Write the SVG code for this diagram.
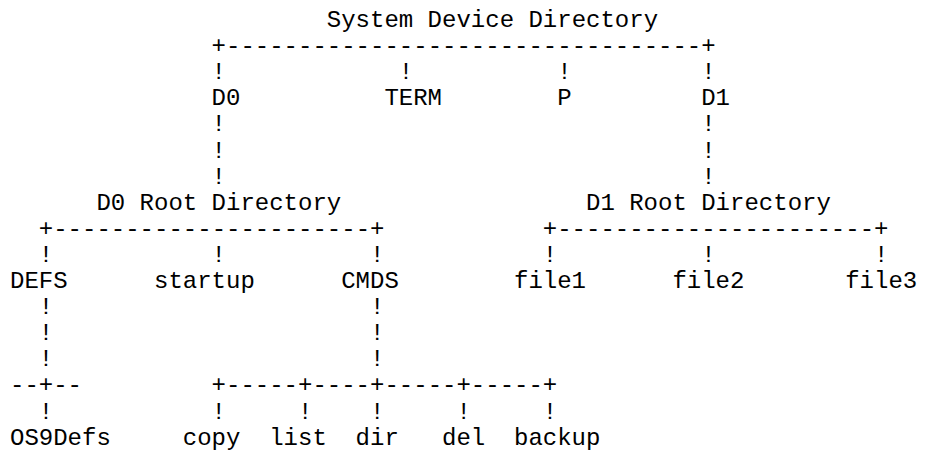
<svg xmlns="http://www.w3.org/2000/svg" width="931" height="452" viewBox="0 0 931 452">
<style>
text{font-family:"Liberation Mono","Courier New",monospace;font-size:24px;fill:#000;white-space:pre}
</style>
<rect width="931" height="452" fill="#fff"/>
<g id="connectors">
<text x="211.6" y="53.1">+---------------------------------+</text>
<text x="211.6" y="79.2">!</text><text x="398.8" y="79.2">!</text><text x="557.2" y="79.2">!</text><text x="701.2" y="79.2">!</text>
<text x="211.6" y="131.4">!</text><text x="701.2" y="131.4">!</text>
<text x="211.6" y="157.5">!</text><text x="701.2" y="157.5">!</text>
<text x="211.6" y="183.6">!</text><text x="701.2" y="183.6">!</text>
<text x="38.8" y="235.8">+----------------------+</text>
<text x="542.8" y="235.8">+----------------------+</text>
<text x="38.8" y="261.9">!</text><text x="211.6" y="261.9">!</text><text x="370" y="261.9">!</text><text x="542.8" y="261.9">!</text><text x="701.2" y="261.9">!</text><text x="874" y="261.9">!</text>
<text x="38.8" y="314.1">!</text><text x="370" y="314.1">!</text>
<text x="38.8" y="340.2">!</text><text x="370" y="340.2">!</text>
<text x="38.8" y="366.3">!</text><text x="370" y="366.3">!</text>
<text x="10" y="392.4">--+--</text>
<text x="211.6" y="392.4">+-----+----+-----+-----+</text>
<text x="38.8" y="418.5">!</text><text x="211.6" y="418.5">!</text><text x="298" y="418.5">!</text><text x="370" y="418.5">!</text><text x="456.4" y="418.5">!</text><text x="542.8" y="418.5">!</text>
</g>
<g id="system-device-directory"><text x="326.8" y="27">System Device Directory</text></g>
<g id="d0"><text x="211.6" y="105.3">D0</text></g>
<g id="term"><text x="384.4" y="105.3">TERM</text></g>
<g id="p"><text x="557.2" y="105.3">P</text></g>
<g id="d1"><text x="701.2" y="105.3">D1</text></g>
<g id="d0-root"><text x="96.4" y="209.7">D0 Root Directory</text></g>
<g id="d1-root"><text x="586" y="209.7">D1 Root Directory</text></g>
<g id="defs"><text x="10" y="288">DEFS</text></g>
<g id="startup"><text x="154" y="288">startup</text></g>
<g id="cmds"><text x="341.2" y="288">CMDS</text></g>
<g id="file1"><text x="514" y="288">file1</text></g>
<g id="file2"><text x="672.4" y="288">file2</text></g>
<g id="file3"><text x="845.2" y="288">file3</text></g>
<g id="os9defs"><text x="10" y="444.6">OS9Defs</text></g>
<g id="copy"><text x="182.8" y="444.6">copy</text></g>
<g id="list"><text x="269.2" y="444.6">list</text></g>
<g id="dir"><text x="355.6" y="444.6">dir</text></g>
<g id="del"><text x="442" y="444.6">del</text></g>
<g id="backup"><text x="514" y="444.6">backup</text></g>
</svg>
